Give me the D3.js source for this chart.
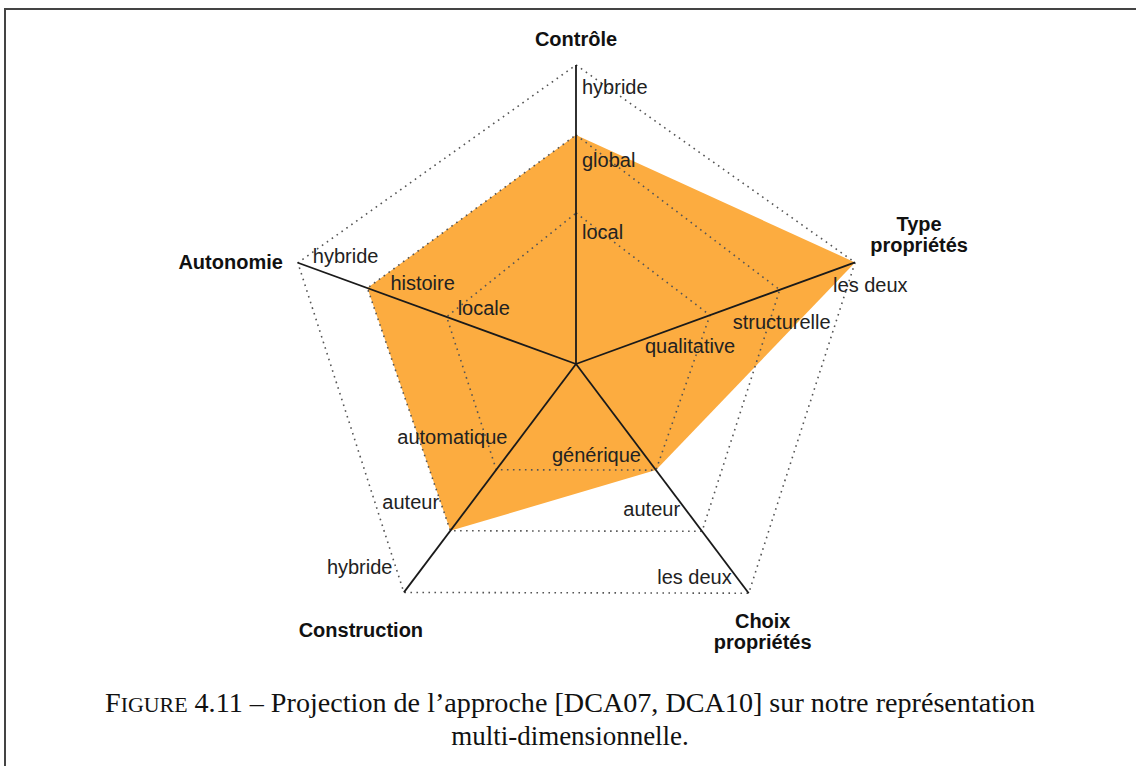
<!DOCTYPE html>
<html>
<head>
<meta charset="utf-8">
<script src="https://cdn.jsdelivr.net/npm/d3@7"></script>
<style>
  html, body { margin: 0; padding: 0; background: #fff; }
</style>
</head>
<body>
<div id="chart"></div>
<script>
// axis titles (one entry per line)
const axisNames = [["Contrôle"], ["Type", "propriétés"], ["Choix", "propriétés"], ["Construction"], ["Autonomie"]];
// level names along each axis, from center outwards
const levelNames = [
  ["local", "global", "hybride"],
  ["qualitative", "structurelle", "les deux"],
  ["générique", "auteur", "les deux"],
  ["automatique", "auteur", "hybride"],
  ["locale", "histoire", "hybride"]
];
// projection of the approach [DCA07, DCA10] (level index on each axis)
const approachValues = [2, 3, 1, 2, 2];
const levels = [1, 2, 3];
const captionLines = [
  ["F", "IGURE", " 4.11 – Projection de l’approche [DCA07, DCA10] sur notre représentation"],
  ["multi-dimensionnelle."]
];

class Chart {
  constructor() {
    const attrs = {
      container: "#chart",
      svgWidth: 1136,
      svgHeight: 766,
      centerX: 576,
      centerY: 364,
      // hand drawn figure: axes and rings are not perfectly regular
      axisAngles: [0, 70, 143, 217, 290],
      axisLengths: [299, 297, 287, 286, 296],
      levelRadius: [
        [0, 0.505, 0.766, 1],
        [0, 0.48, 0.73, 1],
        [0, 0.463, 0.73, 1],
        [0, 0.463, 0.73, 1],
        [0, 0.465, 0.75, 1]
      ],
      fill: "#fcac40",
      defaultFont: "'Liberation Sans', Arial, Helvetica, sans-serif",
      // label placement: anchor + offset from the level point
      labelAnchors: ["start", "start", "end", "start", "start"],
      labelOffsets: [
        [[6, 26], [6, 32], [6, 29]],
        [[-65, 38], [-47, 39], [-22, 30]],
        [[-15, -8], [-22, -15], [-17, -9]],
        [[-99, -26], [-68, -22], [-77, -18]],
        [[11, -2], [23, 2], [15, 0]]
      ],
      titleOffsets: [[0, -19, "middle"], [64, -31, "middle"], [14, 35, "middle"], [-43, 45, "middle"], [-15, 6, "end"]],
      data: null
    };
    this.getState = () => attrs;
    this.setState = (d) => Object.assign(attrs, d);
  }

  render() {
    this.calculateProperties();
    this.drawSvg();
    this.drawRadar();
    this.drawCaption();
    return this;
  }

  calculateProperties() {
    const { levelRadius, axisAngles, axisLengths, centerX, centerY } = this.getState();
    // one radial scale per axis (level index -> distance from center)
    const rScales = axisAngles.map((a, i) =>
      d3.scaleLinear().domain([0, 1, 2, 3]).range(levelRadius[i].map((f) => f * axisLengths[i]))
    );
    const point = (i, v) => {
      const a = axisAngles[i] * Math.PI / 180;
      const r = rScales[i](v);
      return [centerX + r * Math.sin(a), centerY - r * Math.cos(a)];
    };
    this.setState({ rScales, point });
  }

  drawSvg() {
    const { container, svgWidth, svgHeight, defaultFont } = this.getState();
    const svg = d3.select(container).append("svg")
      .attr("width", svgWidth)
      .attr("height", svgHeight)
      .attr("font-family", defaultFont);

    // figure frame (continues beyond the cropped picture)
    svg.append("path")
      .attr("d", `M5,${svgHeight} V9 H${svgWidth}`)
      .attr("fill", "none")
      .attr("stroke", "#444")
      .attr("stroke-width", 2);

    this.setState({ svg });
  }

  drawRadar() {
    const { svg, point, fill, labelAnchors, labelOffsets, titleOffsets } = this.getState();
    const axisIdx = d3.range(axisNames.length);
    const line = d3.line().curve(d3.curveLinearClosed);

    // approach area
    svg.append("path")
      .attr("class", "area")
      .attr("d", line(approachValues.map((v, i) => point(i, v))))
      .attr("fill", fill);

    // dotted level rings
    svg.selectAll("path.ring")
      .data(levels)
      .join("path")
      .attr("class", "ring")
      .attr("d", (lv) => line(axisIdx.map((i) => point(i, lv))))
      .attr("fill", "none")
      .attr("stroke", "#555")
      .attr("stroke-width", 1.6)
      .attr("stroke-dasharray", "1.6 4.4");

    // axes
    svg.selectAll("line.axis")
      .data(axisIdx)
      .join("line")
      .attr("class", "axis")
      .attr("x1", (i) => point(i, 0)[0])
      .attr("y1", (i) => point(i, 0)[1])
      .attr("x2", (i) => point(i, 3)[0])
      .attr("y2", (i) => point(i, 3)[1])
      .attr("stroke", "#1a1a1a")
      .attr("stroke-width", 1.8);

    // level labels
    const labels = [];
    axisIdx.forEach((i) => levelNames[i].forEach((name, k) => labels.push({ i, k, name })));
    svg.selectAll("text.level")
      .data(labels)
      .join("text")
      .attr("class", "level")
      .attr("x", (d) => point(d.i, levels[d.k])[0] + labelOffsets[d.i][d.k][0])
      .attr("y", (d) => point(d.i, levels[d.k])[1] + labelOffsets[d.i][d.k][1])
      .attr("text-anchor", (d) => labelAnchors[d.i])
      .attr("font-size", 20)
      .attr("fill", "#222")
      .text((d) => d.name);

    // axis titles
    const titles = svg.selectAll("text.title")
      .data(axisIdx)
      .join("text")
      .attr("class", "title")
      .attr("text-anchor", (i) => titleOffsets[i][2])
      .attr("font-size", 20)
      .attr("font-weight", "bold")
      .attr("fill", "#111");
    titles.selectAll("tspan")
      .data((i) => axisNames[i].map((t, j) => ({ i, t, j })))
      .join("tspan")
      .attr("x", (d) => point(d.i, 3)[0] + titleOffsets[d.i][0])
      .attr("y", (d) => point(d.i, 3)[1] + titleOffsets[d.i][1] + d.j * 21)
      .text((d) => d.t);
  }

  drawCaption() {
    const { svg } = this.getState();
    const lineY = [712, 745];
    const cap = svg.selectAll("text.caption")
      .data(captionLines)
      .join("text")
      .attr("class", "caption")
      .attr("x", 570)
      .attr("y", (d, i) => lineY[i])
      .attr("text-anchor", "middle")
      .attr("font-family", "'Liberation Serif', 'Times New Roman', serif")
      .attr("font-size", 27)
      .attr("fill", "#111");
    // first line is justified to the text width
    cap.filter((d, i) => i === 0)
      .attr("textLength", 930)
      .attr("lengthAdjust", "spacingAndGlyphs");
    cap.selectAll("tspan")
      .data((d) => d)
      .join("tspan")
      .attr("font-size", (t) => (t === "IGURE" ? 21 : 27))
      .text((t) => t);
  }
}

new Chart().render();
</script>
</body>
</html>
